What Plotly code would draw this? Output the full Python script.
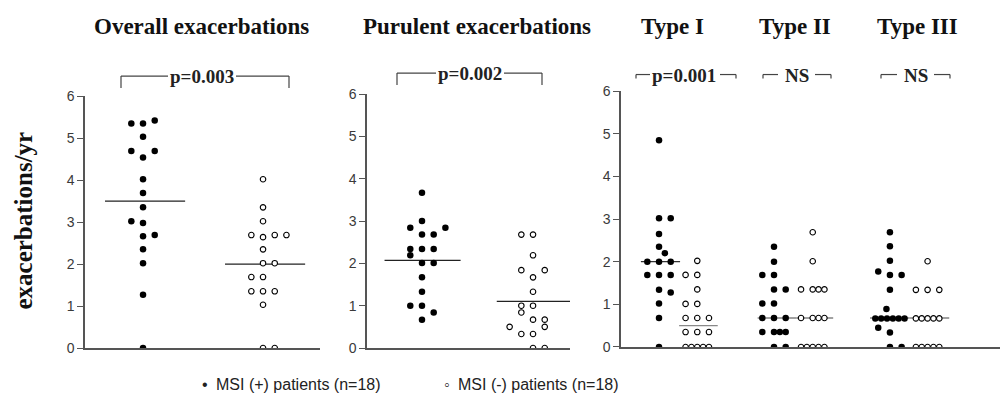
import plotly.graph_objects as go

# ---------------- data ----------------
# Overall exacerbations
overall_pos = [5.35, 5.35, 5.42, 5.03, 4.69, 4.69, 4.54, 4.02, 3.69, 3.35, 3.02, 2.98, 2.69, 2.66, 2.35, 2.02, 1.27, 0.0]
overall_pos_col = [-1, 0, 1, 0, -1, 1, 0, 0, 0, 0, -1, 0, 1, 0, 0, 0, 0, 0]
overall_neg = [4.02, 3.35, 3.02, 2.69, 2.69, 2.69, 2.64, 2.35, 2.02, 2.02, 1.69, 1.69, 1.35, 1.35, 1.35, 1.03, 0.0, 0.0]
overall_neg_col = [0, 0, 0, -1, 1, 2, 0, 0, 0, 1, -1, 0, -1, 0, 1, 0, 0, 1]
overall_medians = [3.5, 2.0]

# Purulent exacerbations
purulent_pos = [3.67, 3.0, 2.84, 2.84, 2.68, 2.68, 2.34, 2.34, 2.34, 2.19, 2.01, 2.01, 1.67, 1.33, 1.0, 1.0, 0.84, 0.67]
purulent_pos_col = [0, 0, -1, 2, 0, 1, -1, 0, 1, -1, 0, 1, 0, 0, -1, 0, 1, 0]
purulent_neg = [2.68, 2.68, 2.19, 1.84, 1.84, 1.67, 1.33, 1.0, 1.0, 0.84, 0.67, 0.67, 0.5, 0.5, 0.33, 0.33, 0.0, 0.0]
purulent_neg_col = [-1, 0, 0, -1, 1, 0, 0, -1, 0, -1, 0, 1, -2, 1, -1, 0, 0, 1]
purulent_medians = [2.07, 1.1]

# Type I
type1_pos = [4.85, 3.02, 3.02, 2.65, 2.35, 2.2, 2.0, 2.0, 2.0, 1.69, 1.69, 1.69, 1.34, 1.28, 1.02, 0.68, 0.0]
type1_pos_col = [0, 0, 1, 0, 0, 0.5, -1, 0, 1, -1, 0, 1, 0, 1, 0, 0, 0]
type1_neg = [2.02, 1.69, 1.69, 1.35, 1.01, 1.01, 0.68, 0.68, 0.68, 0.35, 0.35, 0.35, 0.0, 0.0, 0.0, 0.0, 0.0]
type1_neg_col = [0, -1, 0, 0, -1, 0, -1, 0, 1, -1, 0, 1, -1, -0.5, 0, 0.5, 1]
type1_medians = [2.0, 0.5]

# Type II
type2_pos = [2.35, 2.0, 1.69, 1.69, 1.35, 1.35, 1.02, 1.02, 0.68, 0.68, 0.68, 0.35, 0.35, 0.35, 0.35, 0.0, 0.0]
type2_pos_col = [0, 0, -1, 0, 0, 1, -1, 0, -1, 0, 1, -1, 0, 0.5, 1, 0, 1]
type2_neg = [2.69, 2.01, 1.35, 1.35, 1.35, 1.35, 0.68, 0.68, 0.68, 0.68, 0.0, 0.0, 0.0, 0.0, 0.0]
type2_neg_col = [0, 0, -1, 0, 0.5, 1, -1, 0, 0.5, 1, -1, -0.5, 0, 0.5, 1]
type2_medians = [0.68, 0.68]

# Type III
type3_pos = [2.69, 2.36, 2.02, 1.77, 1.69, 1.69, 1.34, 0.89, 0.67, 0.67, 0.67, 0.67, 0.67, 0.67, 0.45, 0.34, 0.0, 0.0]
type3_pos_col = [0, 0, 0, -1, 0, 1, 0, -0.3, -1.25, -0.75, -0.25, 0.25, 0.75, 1.25, -1, 0, 0, 1]
type3_neg = [2.01, 1.34, 1.34, 1.34, 0.67, 0.67, 0.67, 0.67, 0.67, 0.0, 0.0, 0.0, 0.0, 0.0]
type3_neg_col = [0, -1, 0, 1, -1, -0.5, 0, 0.5, 1, -1, -0.5, 0, 0.5, 1]
type3_medians = [0.68, 0.68]

panel_titles = ["Overall exacerbations", "Purulent exacerbations", "Type I", "Type II", "Type III"]
p_labels = ["p=0.003", "p=0.002", "p=0.001", "NS", "NS"]
legend_labels = ["MSI (+) patients (n=18)", "MSI (-) patients (n=18)"]
y_title = "exacerbations/yr"
y_ticks = [0, 1, 2, 3, 4, 5, 6]

# ---------------- layout helpers ----------------
W, H = 1000, 394
# vertical calibration of the photographed page (observed offset / scale)
V_OFF, V_SCALE = 8.2, 0.956

def px(x):
    return x / W
def py(y):
    return 1 - ((y - V_OFF) / V_SCALE) / H

AX = "#555555"
SERIF = "Liberation Serif, Times New Roman, serif"
SANS = "Liberation Sans, Arial, sans-serif"

fig = go.Figure()

filled = dict(color="black", size=6.5, line=dict(width=0))
hollow = dict(color="white", size=5.5, line=dict(color="black", width=1.1))

# groups: (values, cols, center, axis-suffix, marker)
groups = [
    (overall_pos, overall_pos_col, 0.0, "", filled),
    (overall_neg, overall_neg_col, 10.26, "", hollow),
    (purulent_pos, purulent_pos_col, 0.0, "2", filled),
    (purulent_neg, purulent_neg_col, 9.49, "2", hollow),
    (type1_pos, type1_pos_col, 0.0, "3", filled),
    (type1_neg, type1_neg_col, 3.27, "3", hollow),
    (type2_pos, type2_pos_col, 9.83, "3", filled),
    (type2_neg, type2_neg_col, 13.14, "3", hollow),
    (type3_pos, type3_pos_col, 19.74, "3", filled),
    (type3_neg, type3_neg_col, 22.96, "3", hollow),
]

# median lines: (median, center, half-width left, half-width right, axis, color)
medians = [
    (overall_medians[0], 0.0, 3.25, 3.6, "", "#222"),
    (overall_medians[1], 10.26, 3.25, 3.6, "", "#222"),
    (purulent_medians[0], 0.0, 3.2, 3.3, "2", "#222"),
    (purulent_medians[1], 9.49, 3.1, 3.2, "2", "#222"),
    (type1_medians[0], 0.0, 1.55, 1.8, "3", "#333"),
    (type1_medians[1], 3.27, 1.55, 1.75, "3", "#888"),
    (type2_medians[0], 9.83, 1.4, 1.95, "3", "#444"),
    (type2_medians[1], 13.14, 1.35, 1.75, "3", "#444"),
    (type3_medians[0], 19.74, 1.7, 1.7, "3", "#444"),
    (type3_medians[1], 22.96, 1.5, 1.85, "3", "#444"),
]
for m, c, hl, hr, ax, col in medians:
    fig.add_trace(go.Scatter(x=[c - hl, c + hr], y=[m, m], mode="lines",
                             line=dict(color=col, width=1.2),
                             xaxis="x" + ax, yaxis="y" + ax, hoverinfo="skip"))

for vals, cols, center, ax, mk in groups:
    fig.add_trace(go.Scatter(x=[center + c for c in cols], y=vals, mode="markers",
                             marker=mk, xaxis="x" + ax, yaxis="y" + ax))

xcommon = dict(showline=True, linecolor=AX, linewidth=1.5, showticklabels=False,
               ticks="", showgrid=False, zeroline=False, fixedrange=True)
ycommon = dict(showline=True, linecolor=AX, linewidth=1.5, range=[0, 6],
               tickvals=y_ticks, ticks="outside", ticklen=6, tickcolor=AX, tickwidth=1.2,
               tickfont=dict(family=SANS, size=14, color="#3a3a3a"),
               showgrid=False, zeroline=False, fixedrange=True)

fig.update_layout(
    width=W, height=H, margin=dict(l=0, r=0, t=0, b=0),
    plot_bgcolor="white", paper_bgcolor="white", showlegend=False,
    xaxis=dict(domain=[px(85), px(320)], range=[-4.96, 15.13], anchor="y", **xcommon),
    yaxis=dict(domain=[py(347), py(96)], anchor="x", **ycommon),
    xaxis2=dict(domain=[px(367), px(570)], range=[-4.70, 12.65], anchor="y2", **xcommon),
    yaxis2=dict(domain=[py(347), py(94)], anchor="x2", **ycommon),
    xaxis3=dict(domain=[px(621), px(1000)], range=[-3.25, 29.15], anchor="y3", **xcommon),
    yaxis3=dict(domain=[py(346), py(91)], anchor="x3", **ycommon),
)

ann = []
# panel titles
title_x = [201, 477, 672, 795, 917]
for t, xc in zip(panel_titles, title_x):
    ann.append(dict(text="<b>%s</b>" % t, x=px(xc), y=py(27), xref="paper", yref="paper",
                    showarrow=False, xanchor="center", yanchor="middle",
                    font=dict(family=SERIF, size=23, color="#111")))
# y title
ann.append(dict(text="<b>%s</b>" % y_title, x=px(24), y=py(220), xref="paper", yref="paper",
                showarrow=False, textangle=-90, xanchor="center", yanchor="middle",
                font=dict(family=SERIF, size=25, color="#111")))
# p-value labels
p_x = [202, 470, 684, 797, 916]
p_y = [76, 73, 75, 75, 75]
for t, xc, yc in zip(p_labels, p_x, p_y):
    ann.append(dict(text="<b>%s</b>" % t, x=px(xc), y=py(yc), xref="paper", yref="paper",
                    showarrow=False, xanchor="center", yanchor="middle",
                    font=dict(family=SERIF, size=19, color="#222")))
# legend
ann.append(dict(text="•", x=px(205), y=py(383), xref="paper", yref="paper", showarrow=False,
                xanchor="center", yanchor="middle", font=dict(family=SANS, size=16, color="#222")))
ann.append(dict(text=legend_labels[0], x=px(214), y=py(383), xref="paper", yref="paper",
                showarrow=False, xanchor="left", yanchor="middle",
                font=dict(family=SANS, size=16, color="#222")))
ann.append(dict(text="◦", x=px(447), y=py(383), xref="paper", yref="paper", showarrow=False,
                xanchor="center", yanchor="middle", font=dict(family=SANS, size=16, color="#222")))
ann.append(dict(text=legend_labels[1], x=px(456), y=py(383), xref="paper", yref="paper",
                showarrow=False, xanchor="left", yanchor="middle",
                font=dict(family=SANS, size=16, color="#222")))
fig.update_layout(annotations=ann)

# bracket lines (pixel coordinates converted to paper)
def seg(x0, y0, x1, y1):
    fig.add_shape(type="line", xref="paper", yref="paper",
                  x0=px(x0), y0=py(y0), x1=px(x1), y1=py(y1),
                  line=dict(color="#444", width=1.2))

# panel 1
seg(121, 76, 168, 76); seg(236, 76, 289, 76); seg(121, 76, 121, 88); seg(289, 76, 289, 88)
# panel 2
seg(397, 73, 436, 73); seg(504, 73, 542, 73); seg(397, 73, 397, 85); seg(542, 73, 542, 85)
# panel 3 small brackets
for l0, l1, r0, r1 in [(636, 650, 720, 736), (763, 778, 815, 831), (881, 897, 934, 950)]:
    seg(l0, 74.5, l1, 74.5); seg(r0, 74.5, r1, 74.5)
    seg(l0, 74.5, l0, 78.5); seg(r1, 74.5, r1, 78.5)

fig.write_html("out.html", config={"displayModeBar": False},
               post_script="document.body.style.margin='0';"
                           "document.documentElement.style.overflow='hidden';"
                           "document.body.style.overflow='hidden';")
